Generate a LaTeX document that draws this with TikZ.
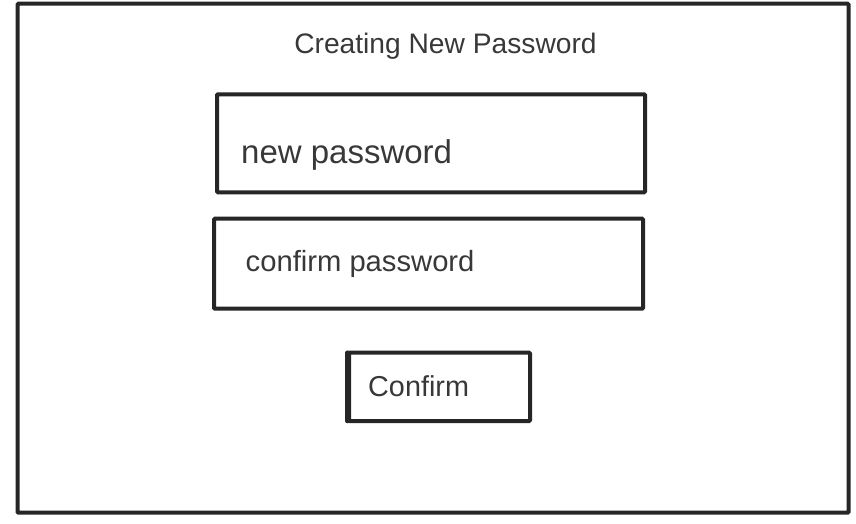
\documentclass[tikz,border=0pt]{standalone}
\usepackage{fontspec}
\setmainfont{Liberation Sans}
\usetikzlibrary{calc,positioning}

\begin{document}
\begin{tikzpicture}[
            x=1pt,y=-1pt,
            every node/.append style={black!78,inner sep=0pt},
            field/.style={draw=black!85,line width=4pt,outer sep=0pt,rounded corners=1pt,anchor=north west},
            label/.style={anchor=base west,font=\fontsize{28.8}{30}\selectfont}
        ]
            \useasboundingbox (0,0) rectangle (856,524);

            \node[field,minimum width=831pt,minimum height=509pt] (frame) at (17.5,3.7) {};
            \node[anchor=base,font=\fontsize{28.2}{30}\selectfont] (title) at (445.5,54) {Creating New Password};

            \node[field,minimum width=428pt,minimum height=98pt] (newpw) at (217,94.3) {};
            \node[label,font=\fontsize{33}{35}\selectfont] (newpwtext) at ($(newpw.north west)+(24,68.7)$) {new password};

            \node[field,minimum width=429pt,minimum height=90pt] (confpw) at (214,218.7) {};
            \node[label,font=\fontsize{29.2}{31}\selectfont] (confpwtext) at ($(confpw.north west)+(31.5,52.3)$) {confirm password};

            \node[field,minimum width=181pt,minimum height=68.3pt] (confirm) at (349,352.7) {};
            \draw[black!85,line width=4.5pt,line cap=round] ([xshift=-1.5pt]confirm.north west) -- ([xshift=-1.5pt]confirm.south west);
            \node[label] (confirmtext) at ($(confirm.north west)+(19,43.3)$) {Confirm};
        \end{tikzpicture}
\end{document}
